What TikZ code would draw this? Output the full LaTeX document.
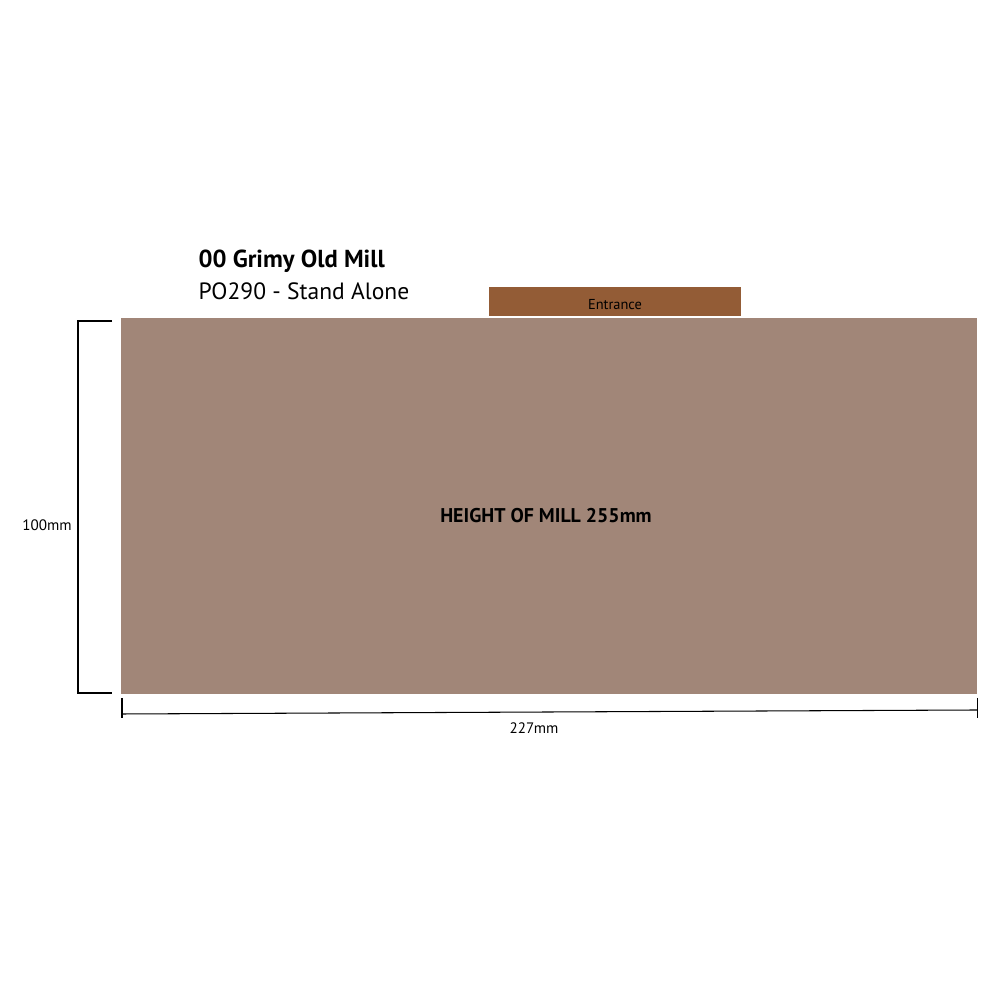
\documentclass[tikz,border=0pt]{standalone}
\usepackage{fontspec}
\setmainfont{PT Sans}
\usetikzlibrary{positioning}

\definecolor{millbrown}{HTML}{A18678}
\definecolor{doorbrown}{HTML}{935C36}

\begin{document}
\begin{tikzpicture}[
    block/.style={
        rectangle, inner sep=0pt, outer sep=0pt,
        anchor=south west
    },
    dimline/.style={
        draw=black, line width=0.3pt
    },
    dimlabel/.style={
        inner sep=0pt,
        font=\fontsize{4.3}{5}\selectfont
    }
]
\useasboundingbox (0,0) rectangle (10,10);

% Mill footprint
\node[block,fill=millbrown,minimum width=8.56cm,minimum height=3.76cm] (mill) at (1.21,3.06) {};
\node[font=\bfseries\fontsize{5.65}{7}\selectfont] (height) at (5.46,4.84) {HEIGHT OF MILL 255mm};

% Entrance
\node[block,fill=doorbrown,minimum width=2.52cm,minimum height=0.29cm] (entrance) at (4.89,6.84) {};
\node[font=\fontsize{4.1}{5}\selectfont] (entlabel) at ([yshift=-0.03cm]entrance.center) {Entrance};

% Title
\node[anchor=south west,inner sep=0pt,font=\bfseries\fontsize{7}{8}\selectfont] (title) at (1.98,7.27) {00 Grimy Old Mill};
\node[anchor=south west,inner sep=0pt,font=\fontsize{6.7}{8}\selectfont] (subtitle) at (1.98,6.99) {PO290 - Stand Alone};

% Depth dimension
\coordinate (dtop) at (0.78,6.79);
\coordinate (dbot) at (0.78,3.07);
\draw[dimline] (1.12,6.79) -- (dtop) -- (dbot) -- (1.12,3.07);
\node[dimlabel] (depth) at (0.47,4.75) {100mm};

% Width dimension
\coordinate (wleft) at (1.22,2.86);
\coordinate (wright) at (9.77,2.90);
\draw[dimline] (wleft) -- (wright);
\draw[dimline] (1.22,3.02) -- (1.22,2.82);
\draw[dimline] (9.77,3.02) -- (9.77,2.82);
\node[dimlabel] (width) at (5.34,2.72) {227mm};

\end{tikzpicture}
\end{document}
